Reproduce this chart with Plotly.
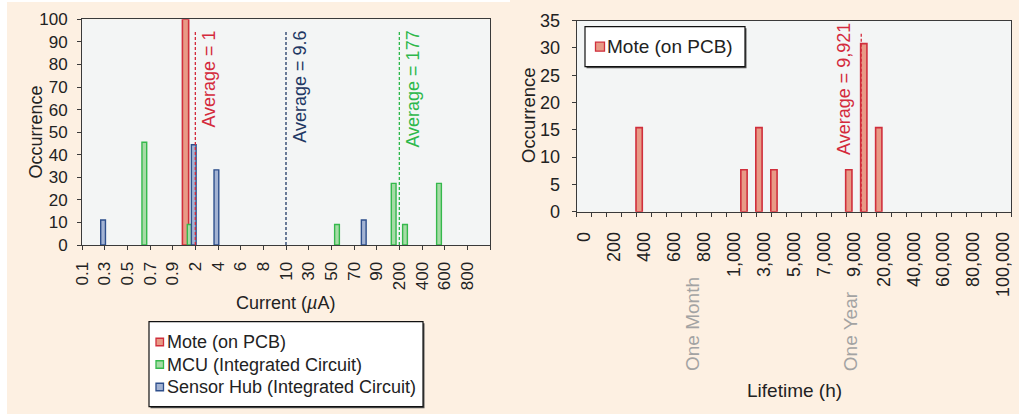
import numpy as np
import plotly.graph_objects as go

# ---------------- data (left: current histogram) ----------------
current_edges = [0.1, 0.2, 0.3, 0.4, 0.5, 0.6, 0.7, 0.8, 0.9,
                 1, 2, 3, 4, 5, 6, 7, 8, 9,
                 10, 20, 30, 40, 50, 60, 70, 80, 90,
                 100, 200, 300, 400, 500, 600, 700, 800, 900, 1000]
mote_cur_bin = [1]
mote_cur_occ = [100]
mcu_cur_bin = [0.6, 1, 50, 100, 200, 500]
mcu_cur_occ = [45.5, 9.1, 9.1, 27.3, 9.1, 27.3]
hub_cur_bin = [0.2, 1, 3, 70]
hub_cur_occ = [11.1, 44.4, 33.3, 11.1]
cur_averages = [1, 9.6, 177]
cur_avg_text = ["Average = 1", "Average = 9.6", "Average = 177"]
cur_series = ["Mote (on PCB)", "MCU (Integrated Circuit)", "Sensor Hub (Integrated Circuit)"]

# ---------------- data (right: lifetime histogram) ----------------
life_cats = [0, 100, 200, 300, 400, 500, 600, 700, 800, 900, 1000,
             2000, 3000, 4000, 5000, 6000, 7000, 8000, 9000, 10000,
             20000, 30000, 40000, 50000, 60000, 70000, 80000, 90000, 100000]
mote_life_bin = [400, 2000, 3000, 4000, 9000, 10000, 20000]
mote_life_occ = [15.4, 7.7, 15.4, 7.7, 7.7, 30.8, 15.4]
life_average = 9921
life_avg_text = "Average = 9,921"
life_marks = [720, 8760]
life_mark_text = ["One Month", "One Year"]

# ---------------- styling ----------------
W, H = 1019, 414
PEACH = "#fdf0e2"
PLOTBG = "#f3f5f5"
AX = "#3a3a3a"
TXT = "#222222"
FONT = "Liberation Sans, Arial, sans-serif"
RED_LINE, RED_FILL = "#d02f3c", "#e89a86"
GRN_LINE, GRN_FILL = "#35b94c", "#a6dba6"
BLU_LINE, BLU_FILL = "#2e4f8c", "#a3b3d3"
SERIES_STYLE = [(RED_FILL, RED_LINE), (GRN_FILL, GRN_LINE), (BLU_FILL, BLU_LINE)]
AVG_COLORS = ["#d42a3c", "#1f3864", "#2db84b"]
DASH = "3px,2px"


def px(x):
    return x / W


def py(y):
    return 1 - y / H


def bin_centre(vals, edges):
    return [edges.index(v) + 0.5 for v in vals]


fig = go.Figure()

# left bars
left_sets = [(mote_cur_bin, mote_cur_occ, 0.55, -0.64, 1.6),
             (mcu_cur_bin, mcu_cur_occ, 0.42, -0.21, 1.4),
             (hub_cur_bin, hub_cur_occ, 0.42, 0.15, 1.4)]
for (bins, occ, w, off, lw), name, (fill, line) in zip(left_sets, cur_series, SERIES_STYLE):
    fig.add_trace(go.Bar(x=bin_centre(bins, current_edges), y=occ, name=name,
                         width=w, offset=off,
                         marker=dict(color=fill, line=dict(color=line, width=lw)),
                         xaxis="x", yaxis="y", showlegend=False))

# right bars
fig.add_trace(go.Bar(x=bin_centre(mote_life_bin, life_cats), y=mote_life_occ,
                     name=cur_series[0], width=0.42, offset=-0.54,
                     marker=dict(color=RED_FILL, line=dict(color=RED_LINE, width=1.6)),
                     xaxis="x2", yaxis="y2", showlegend=False))

shapes = []
annotations = []

# average lines (left)
for v, txt, col in zip(cur_averages, cur_avg_text, AVG_COLORS):
    pos = int(np.searchsorted(current_edges, v, side="right"))
    shapes.append(dict(type="line", xref="x", yref="y", x0=pos, x1=pos, y0=0, y1=95,
                       line=dict(color=col, width=1.3, dash=DASH)))
    annotations.append(dict(xref="x", yref="y", x=pos, y=95.8, text=txt, textangle=-90,
                            showarrow=False, xanchor="left", yanchor="top", xshift=2,
                            font=dict(family=FONT, size=18, color=col)))

# average line (right)
lpos = int(np.searchsorted(life_cats, life_average, side="right"))
shapes.append(dict(type="line", xref="x2", yref="y2", x0=lpos, x1=lpos, y0=0, y1=32.7,
                   line=dict(color=AVG_COLORS[0], width=1.3, dash=DASH)))
annotations.append(dict(xref="x2", yref="y2", x=lpos, y=35, text=life_avg_text, textangle=-90,
                        showarrow=False, xanchor="right", yanchor="top", xshift=-6,
                        font=dict(family=FONT, size=18, color=AVG_COLORS[0])))

# One Month / One Year
idx = np.arange(len(life_cats))
for v, txt in zip(life_marks, life_mark_text):
    p = float(np.interp(v, life_cats, idx)) + 0.5
    annotations.append(dict(xref="x2", yref="paper", x=p, y=py(373), text=txt, textangle=-90,
                            showarrow=False, xanchor="center", yanchor="bottom",
                            font=dict(family=FONT, size=19, color="#a3a3a3")))

# axis titles
annotations += [
    dict(xref="paper", yref="paper", x=px(35), y=py(132.5), text="Occurrence", textangle=-90,
         xanchor="center", yanchor="middle",
         showarrow=False, font=dict(family=FONT, size=18, color=TXT)),
    dict(xref="paper", yref="paper", x=px(528), y=py(115), text="Occurrence", textangle=-90,
         xanchor="center", yanchor="middle",
         showarrow=False, font=dict(family=FONT, size=18.5, color=TXT)),
    dict(xref="paper", yref="paper", x=px(285.8), y=py(302.5), text="Current (<i>µ</i>A)",
         xanchor="center", yanchor="middle",
         showarrow=False, font=dict(family=FONT, size=18, color=TXT)),
    dict(xref="paper", yref="paper", x=px(794), y=py(390), text="Lifetime (h)",
         xanchor="center", yanchor="middle",
         showarrow=False, font=dict(family=FONT, size=19, color=TXT)),
]

# white strips at the left/top edge of the original picture
shapes += [
    dict(type="rect", xref="paper", yref="paper", x0=0, x1=px(7), y0=0, y1=1,
         fillcolor="white", line=dict(width=0), layer="below"),
    dict(type="rect", xref="paper", yref="paper", x0=0, x1=px(510), y0=py(2), y1=1,
         fillcolor="white", line=dict(width=0), layer="below"),
]


# hand-built legend boxes (compact symbols like the original)
def legend_box(x0, x1, y0, y1, names, styles, rows_y, sym_x0, sym_size, text_x, fsize):
    shapes.append(dict(type="rect", xref="paper", yref="paper",
                       x0=px(x0 + 1.5), x1=px(x1 + 1.5), y0=py(y1 + 1.5), y1=py(y0 + 1.5),
                       fillcolor="#555", line=dict(width=0)))
    shapes.append(dict(type="rect", xref="paper", yref="paper",
                       x0=px(x0), x1=px(x1), y0=py(y1), y1=py(y0),
                       fillcolor="white", line=dict(color="#111", width=1.2)))
    for name, (fill, line), ry in zip(names, styles, rows_y):
        shapes.append(dict(type="rect", xref="paper", yref="paper",
                           x0=px(sym_x0), x1=px(sym_x0 + sym_size),
                           y0=py(ry + sym_size / 2), y1=py(ry - sym_size / 2),
                           fillcolor=fill, line=dict(color=line, width=1.3)))
        annotations.append(dict(xref="paper", yref="paper", x=px(text_x), y=py(ry),
                                text=name, showarrow=False, xanchor="left", yanchor="middle",
                                font=dict(family=FONT, size=fsize, color=TXT)))


legend_box(149, 423, 321.7, 406.7, cur_series, SERIES_STYLE,
           [342, 364.5, 387], 156, 7.5, 165, 18)
legend_box(585, 745, 26.7, 66.7, cur_series[:1], SERIES_STYLE[:1],
           [46.7], 595.5, 9, 605, 19)

# tick setup
left_tickvals = list(range(0, len(current_edges), 2))
left_ticktext = [f"{current_edges[i]:g}" for i in left_tickvals[:-1]] + [""]
right_tickvals = [i + 0.5 for i in range(0, len(life_cats), 2)]
right_ticktext = [f"{life_cats[i]:,}" for i in range(0, len(life_cats), 2)]

axis_common = dict(showline=True, linecolor=AX, linewidth=1, mirror=True, showgrid=False,
                   zeroline=False, ticks="outside", tickcolor=AX, ticklen=4, tickwidth=1,
                   automargin=False, tickfont=dict(family=FONT, size=17, color=TXT))
tf_r = dict(family=FONT, size=18, color=TXT)

fig.update_layout(
    width=W, height=H, autosize=False,
    margin=dict(l=0, r=0, t=0, b=0, pad=0),
    paper_bgcolor=PEACH, plot_bgcolor=PLOTBG,
    barmode="overlay", showlegend=False,
    xaxis=dict(domain=[px(82), px(490)], range=[0, len(current_edges) - 1],
               tickmode="array", tickvals=left_tickvals, ticktext=left_ticktext,
               tickangle=-90, anchor="y", ticklabelstandoff=5, **axis_common),
    yaxis=dict(domain=[py(245), py(19.3)], range=[0, 100], tickmode="linear", tick0=0, dtick=10,
               anchor="x", ticklabelstandoff=6, **axis_common),
    xaxis2=dict(domain=[px(576.7), px(1011)], range=[0, len(life_cats)],
                tickmode="array", tickvals=right_tickvals, ticktext=right_ticktext,
                tickangle=-90, anchor="y2", ticklabelstandoff=8,
                minor=dict(tickmode="array", tickvals=list(range(len(life_cats) + 1)),
                           ticks="outside", ticklen=4, tickcolor=AX, tickwidth=1),
                **{**axis_common, "tickcolor": "rgba(0,0,0,0)", "tickfont": tf_r}),
    yaxis2=dict(domain=[py(211.7), py(20.7)], range=[0, 35], tickmode="linear", tick0=0, dtick=5,
                anchor="x2", ticklabelstandoff=8, **{**axis_common, "tickfont": tf_r}),
    shapes=shapes,
    annotations=annotations,
)

fig.write_html("out.html")
